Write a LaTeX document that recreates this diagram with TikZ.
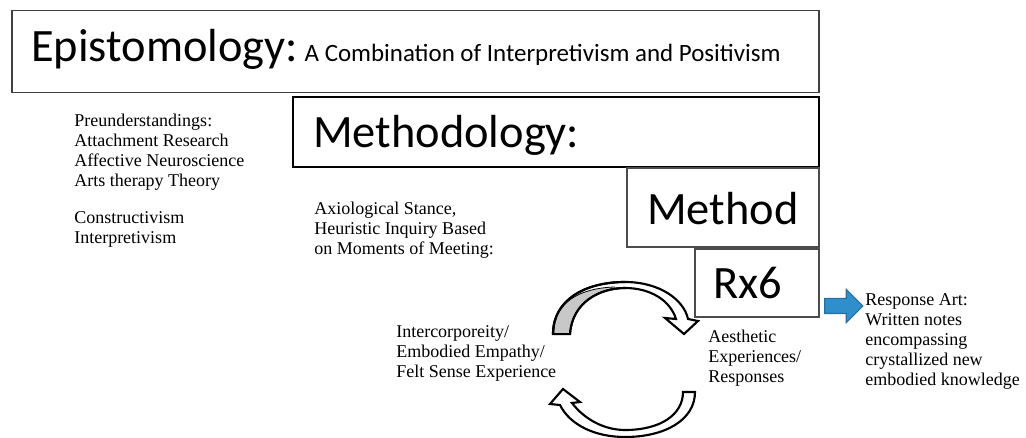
\documentclass[tikz,border=0pt]{standalone}
\usepackage{fontspec}
\setmainfont{Liberation Serif}
\newfontfamily\headfont{Carlito}
\usetikzlibrary{positioning,shapes.arrows}
\definecolor{arrowblue}{HTML}{2E8FCB}
\definecolor{arrowedge}{HTML}{2B6E9C}
\definecolor{bandgray}{HTML}{C8C8C8}
\begin{document}
\begin{tikzpicture}[
    x=0.75pt, y=-0.75pt,
    box/.style={rectangle, draw, line width=1.1pt, inner sep=0pt, outer sep=0pt},
    head/.style={anchor=base west, inner sep=0pt, font=\headfont\fontsize{34.8}{40}\selectfont},
    note/.style={anchor=base west, inner sep=0pt, align=left, font=\fontsize{13.5}{15}\selectfont},
    band/.style={draw, line width=1.6pt, fill=white, line join=miter}
]
    \useasboundingbox (0,0) rectangle (1026,438);

    % Boxes
    \node[box, draw=black!75, minimum width=605.25pt, minimum height=61.5pt] (epist) at (415.5,51.5) {};
    \node[box, line width=1.5pt, minimum width=394.5pt, minimum height=52.5pt] (methodology) at (556,132.5) {};
    \node[box, draw=black!70, line width=0.8pt, minimum width=144pt, minimum height=59.25pt] (method) at (723,207.5) {};
    \node[box, draw=black!70, line width=0.8pt, minimum width=93pt, minimum height=51pt] (rx) at (757,283) {};

    % Box titles
    \node[head] (episttxt) at (31,62) {Epistomology:\hspace{5pt}{\fontsize{18.7}{22}\selectfont A Combination of Interpretivism and Positivism}};
    \node[head] (methodologytxt) at (313,148) {Methodology:};
    \node[head] (methodtxt) at (647,225) {Method};
    \node[head] (rxtxt) at (713,299) {Rx6};

    % Notes (anchored at the baseline of the last line)
    \node[note] (preund) at (74,244) {Preunderstandings:\\Attachment Research\\Affective Neuroscience\\Arts therapy Theory\\[13pt]Constructivism\\Interpretivism};
    \node[note] (axio) at (314,255) {Axiological Stance,\\Heuristic Inquiry Based\\on Moments of Meeting:};
    \node[note] (inter) at (396,378) {Intercorporeity/\\Embodied Empathy/\\Felt Sense Experience};
    \node[note] (aesth) at (708,383) {Aesthetic\\Experiences/\\Responses};
    \node[note] (resp) at (865,386) {Response Art:\\Written notes\\encompassing\\crystallized new\\embodied knowledge};

    % Block arrow to the response art
    \node[single arrow, draw=arrowedge, fill=arrowblue, line width=0.8pt,
          minimum height=28.5pt, minimum width=24pt, inner sep=5.25pt,
          single arrow head extend=6.75pt] (harrow) at (840,306) {};

    % Upper curved arrow
    \draw[band] (553,334) .. controls (553,300) and (585,282) .. (625,282)
        .. controls (660,282) and (684,300) .. (688,319) -- (698,321) -- (684,334)
        -- (665,318) -- (676,319) .. controls (670,300) and (650,288) .. (625,288)
        .. controls (600,288) and (572,302) .. (570,334) -- cycle;
    \fill[bandgray] (554,333) .. controls (554,302) and (580,288) .. (615,287)
        .. controls (595,290) and (572,305) .. (569,333) -- cycle;
    \draw[line width=1.6pt, line join=miter] (553,334) .. controls (553,300) and (585,282) .. (625,282);
    \draw[line width=1.6pt] (570,334) .. controls (572,302) and (600,288) .. (625,288);
    \draw[line width=1.6pt] (553,334) -- (570,334);
    \draw[line width=0.6pt] (554,333) .. controls (554,302) and (580,288) .. (615,287);

    % Lower curved arrow
    \draw[band] (695,392) .. controls (695,420) and (665,437) .. (625,437)
        .. controls (595,437) and (570,425) .. (560,405) -- (550,404) -- (563,389)
        -- (580,402) -- (572,403) .. controls (585,420) and (605,430) .. (625,430)
        .. controls (660,430) and (683,415) .. (683,392) -- cycle;
\end{tikzpicture}
\end{document}
